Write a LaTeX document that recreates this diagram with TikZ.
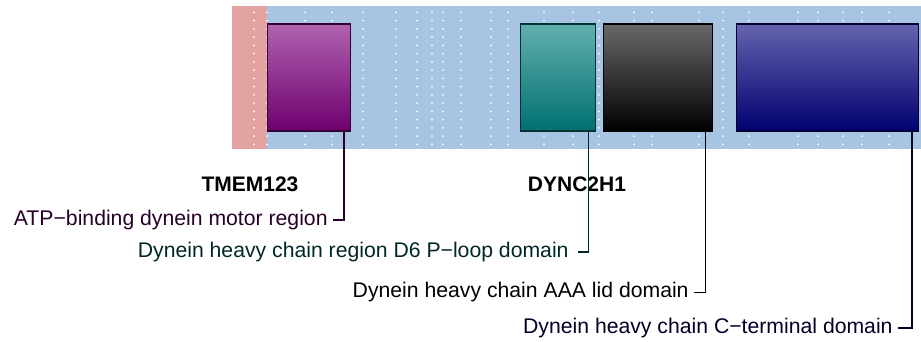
\documentclass[tikz,border=0pt]{standalone}
\usepackage{fontspec}
\setmainfont{Liberation Sans}
\usetikzlibrary{positioning}
\definecolor{bandpink}{HTML}{E4A3A3}
\definecolor{bandblue}{HTML}{A8C4E3}
\definecolor{magtop}{HTML}{B062B0}
\definecolor{magbot}{HTML}{6E006E}
\definecolor{tealtop}{HTML}{62AEAE}
\definecolor{tealbot}{HTML}{007070}
\definecolor{greytop}{HTML}{686868}
\definecolor{greybot}{HTML}{000000}
\definecolor{navytop}{HTML}{6464AE}
\definecolor{navybot}{HTML}{000070}
\tikzset{
  domainbox/.style={draw=#1bot!45!black, line width=0.7pt, top color=#1top, bottom color=#1bot, inner sep=0pt, anchor=north west},
  domlabel/.style={font=\fontsize{10.6}{12}\selectfont, text=#1bot!35!black, anchor=mid east, inner xsep=2.5pt, inner ysep=0pt},
  genelabel/.style={font=\fontsize{10.5}{12}\selectfont\bfseries},
  hook/.style={draw=#1bot!35!black, line width=0.6pt}
}
\begin{document}
\begin{tikzpicture}[x=0.5pt,y=-0.5pt]
  \useasboundingbox (0,0) rectangle (921,342);
  % protein band
  \fill[bandpink] (232,6) rectangle (267,149);
  \fill[bandblue] (267,6) rectangle (921,149);
  \foreach \x in {254,267,305,332,363,396,417,432,443,461,491,508,544,573,599,634,652,699,723,749,798,818,843,862,889}
    \foreach \r in {0,...,16}
      \fill[white] (\x,{12.3+8.25*\r}) circle (0.5pt);
  % domains
  \node[domainbox=mag, minimum width=41.5pt, minimum height=53.5pt] (tmem) at (267,23.5) {};
  \node[domainbox=teal, minimum width=37.5pt, minimum height=53.5pt] (ploop) at (520,23.5) {};
  \node[domainbox=grey, minimum width=54.5pt, minimum height=53.5pt] (aaalid) at (603,23.5) {};
  \node[domainbox=navy, minimum width=91pt, minimum height=53.5pt] (cterm) at (736,23.5) {};
  % gene names
  \node[genelabel] (gtmem) at (250,184) {TMEM123};
  \node[genelabel] (gdync) at (577,184) {DYNC2H1};
  % domain labels
  \node[domlabel=mag] (ltmem) at (333,220) {ATP−binding dynein motor region};
  \node[domlabel=teal, inner xsep=4.5pt] (lploop) at (578,252) {Dynein heavy chain region D6 P−loop domain};
  \node[domlabel=grey] (laaalid) at (694,292.5) {Dynein heavy chain AAA lid domain};
  \node[domlabel=navy] (lcterm) at (898,328) {Dynein heavy chain C−terminal domain};
  % connectors
  \draw[hook=mag] ([xshift=-3.7pt]tmem.south east) |- (ltmem.mid east);
  \draw[hook=teal] ([xshift=-3.9pt]ploop.south east) |- (lploop.mid east);
  \draw[hook=grey] ([xshift=-3.8pt]aaalid.south east) |- (laaalid.mid east);
  \draw[hook=navy] ([xshift=-3.7pt]cterm.south east) |- (lcterm.mid east);
\end{tikzpicture}
\end{document}
